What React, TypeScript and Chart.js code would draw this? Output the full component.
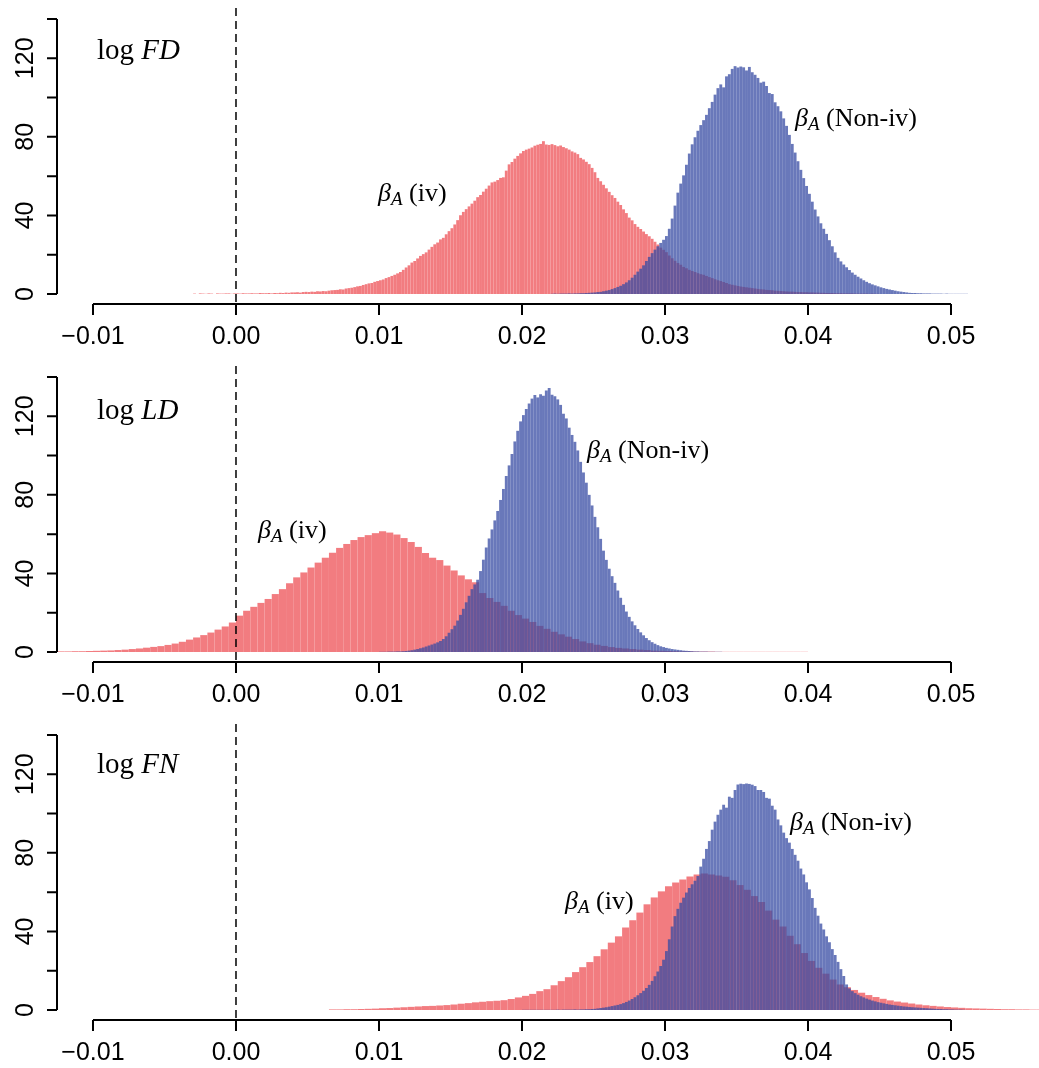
import { useEffect, useRef } from "react";
import { Chart, registerables } from "chart.js";

Chart.register(...registerables);

// ---------- data ----------
const NARROW_BIN = 0.0002;
const WIDE_BIN = 0.0005;

// log FD
const fdIvStart = -0.003;
const fdIv = [
  0.2, 0, 0.3, 0.2, 0.1, 0.3, 0.2, 0, 0.3, 0.2, 0.2, 0.3, 0.3, 0.1, 0.3,
  0.3, 0.2, 0.4, 0.3, 0.3, 0.4, 0.3, 0.3, 0.5, 0.4, 0.4, 0.5, 0.3, 0.5, 0.4,
  0.6, 0.5, 0.7, 0.6, 0.8, 0.8, 0.9, 0.7, 1.0, 1.1, 1.0, 1.2, 1.1, 1.4, 1.3,
  1.5, 1.4, 1.7, 1.9, 2.0, 2.1, 2.4, 2.3, 2.8, 3.0, 3.2, 3.5, 3.9, 4.1, 4.6,
  5.0, 5.4, 5.6, 6.2, 6.6, 7.0, 7.4, 8.1, 8.6, 9.2, 9.8, 10.5, 11.2, 12.3, 13.5,
  14.6, 16.0, 16.8, 18.1, 19.4, 20.3, 21.2, 22.6, 24.0, 25.3, 26.2, 27.8, 28.6, 30.4, 32.0,
  33.5, 35.4, 37.6, 40.1, 41.8, 43.2, 44.6, 46.0, 47.5, 49.3, 50.4, 52.1, 53.6, 55.2, 56.8,
  57.2, 58.0, 59.1, 59.4, 62.8, 66.0, 67.2, 68.9, 70.3, 71.6, 72.8, 73.5, 74.0, 74.6, 75.5,
  76.0, 76.4, 77.8, 76.1, 75.9, 76.3, 75.8, 75.2, 75.6, 74.8, 74.2, 73.5, 72.6, 72.0, 71.2,
  69.3, 68.5, 67.3, 66.1, 64.2, 62.0, 59.1, 57.4, 55.6, 53.8, 52.0, 50.3, 48.9, 47.0, 45.3,
  43.1, 41.2, 38.9, 37.5, 35.6, 34.2, 33.1, 31.8, 30.5, 29.4, 28.1, 26.6, 25.2, 23.6, 22.5,
  21.3, 19.6, 18.2, 16.9, 15.8, 14.9, 13.8, 13.1, 12.3, 11.7, 11.2, 10.6, 10.1, 9.8, 9.2,
  8.6, 8.1, 7.5, 7.0, 6.6, 6.1, 5.6, 5.0, 4.7, 4.4, 4.1, 3.8, 3.6, 3.4, 3.2,
  3.0, 2.8, 2.6, 2.4, 2.3, 2.1, 2.0, 1.9, 1.7, 1.6, 1.5, 1.4, 1.3, 1.2, 1.2,
  1.1, 1.0, 1.0, 0.9, 0.9, 0.8, 0.8, 0.7, 0.7, 0.6, 0.6, 0.5, 0.5, 0.5, 0.4,
  0.4, 0.4, 0.3, 0.3, 0.3, 0.3, 0.2, 0.2, 0.2, 0.2, 0.2, 0.1, 0.2, 0.1, 0.1,
];
const fdNonStart = 0.022;
const fdNon = [
  0.1, 0.2, 0.1, 0.2, 0.2, 0.2, 0.3, 0.2, 0.3, 0.3, 0.4, 0.4, 0.5, 0.6, 0.7,
  0.8, 1.0, 1.1, 1.4, 1.7, 2.0, 2.5, 3.0, 3.6, 4.2, 5.0, 5.9, 7.0, 8.3, 9.8,
  11.4, 12.9, 14.6, 16.8, 18.9, 20.8, 22.6, 24.3, 26.0, 27.6, 29.5, 33.2, 38.4, 45.0, 51.6,
  56.2, 60.4, 65.8, 71.5, 76.2, 79.8, 83.1, 86.0, 88.5, 91.2, 94.6, 97.8, 101.5, 104.8, 106.7,
  105.2, 110.8, 111.9, 114.6, 116.0, 115.3, 115.8, 115.4, 113.8, 115.6, 112.9, 111.6, 110.0, 107.6, 108.1,
  105.9, 102.3, 101.8, 97.6, 95.6, 93.0, 89.4, 85.6, 81.0, 76.4, 72.0, 67.6, 63.2, 59.0, 55.0,
  51.0, 47.0, 43.0, 39.5, 36.0, 33.2, 30.6, 27.4, 24.3, 21.2, 18.4, 16.6, 15.0, 13.6, 12.2,
  10.9, 9.8, 8.8, 7.9, 7.0, 6.2, 5.5, 4.9, 4.4, 3.9, 3.4, 3.0, 2.6, 2.3, 2.0,
  1.7, 1.4, 1.2, 1.0, 0.8, 0.6, 0.5, 0.5, 0.4, 0.4, 0.3, 0.3, 0.3, 0.2, 0.2,
  0.2, 0.2, 0.1, 0.2, 0.1, 0.1, 0.1, 0.1, 0.1, 0.1, 0.1,
];

// log LD
const ldIvStart = -0.0125;
const ldIv = [
  0.3, 0.3, 0.4, 0.4, 0.5, 0.6, 0.7, 0.8, 1.0, 1.2, 1.5, 1.8, 2.2, 2.6, 3.0,
  3.6, 4.3, 5.2, 6.3, 7.4, 8.6, 9.9, 11.4, 13.0, 15.0, 18.5, 21.0, 23.0, 25.0, 27.0,
  29.5, 32.0, 35.0, 38.0, 40.5, 43.0, 45.5, 48.0, 50.5, 53.0, 55.0, 57.0, 58.5, 59.5, 60.5,
  61.5, 60.8, 59.8, 58.0, 56.0, 53.5, 50.4, 48.0, 46.8, 44.0, 41.5, 39.0, 37.0, 35.5, 30.0,
  27.5, 25.5, 23.5, 21.0, 18.8, 17.0, 15.3, 13.3, 11.8, 10.3, 9.0, 7.8, 6.6, 5.4, 4.5,
  3.7, 3.1, 2.5, 2.1, 1.8, 1.5, 1.2, 1.0, 0.7, 0.6, 0.5, 0.4, 0.3, 0.3, 0.2,
  0.2, 0.2, 0.1, 0.1, 0.1, 0.1, 0.1, 0.1, 0.1, 0.1, 0.1, 0.1, 0.1, 0.1, 0.1,
];
const ldNonStart = 0.01;
const ldNon = [
  0.1, 0.1, 0.1, 0.2, 0.2, 0.2, 0.3, 0.3, 0.4, 0.5, 0.7, 0.9, 1.2, 1.5, 1.9,
  2.3, 2.8, 3.3, 3.8, 4.3, 4.9, 5.6, 6.6, 8.0, 9.8, 11.6, 13.4, 16.0, 18.9, 22.0,
  25.3, 28.6, 32.0, 34.4, 36.8, 41.2, 47.0, 53.2, 57.8, 62.4, 67.0, 71.8, 77.4, 83.0, 89.6,
  95.0, 100.8, 107.2, 112.6, 117.4, 120.6, 123.7, 126.5, 129.0, 130.8, 129.6, 131.2, 130.4, 133.1, 134.4,
  131.0, 130.2, 128.6, 125.8, 121.3, 118.9, 114.2, 110.5, 107.0, 102.6, 96.8, 91.4, 86.2, 80.0, 74.6,
  68.8, 63.5, 57.6, 51.6, 46.9, 42.4, 38.6, 35.2, 31.3, 27.6, 24.0, 20.6, 17.9, 15.6, 13.6,
  11.7, 10.0, 8.5, 7.1, 6.0, 5.0, 4.2, 3.5, 2.9, 2.5, 2.1, 1.8, 1.5, 1.3, 1.1,
  0.9, 0.7, 0.6, 0.5, 0.4, 0.3, 0.3, 0.2, 0.2, 0.2, 0.1, 0.1, 0.1, 0.1, 0.1,
];

// log FN
const fnIvStart = 0.0065;
const fnIv = [
  0.3, 0.3, 0.4, 0.4, 0.5, 0.6, 0.7, 0.9, 1.0, 1.2, 1.4, 1.6, 1.8, 2.0, 2.1,
  2.3, 2.5, 2.8, 3.2, 3.5, 3.9, 4.2, 4.5, 4.7, 5.0, 5.6, 6.4, 7.2, 8.2, 9.6,
  10.6, 12.6, 14.7, 16.7, 19.3, 21.8, 24.4, 27.4, 30.9, 34.3, 37.5, 42.0, 45.7, 49.6, 53.8,
  57.3, 60.4, 63.0, 64.9, 66.5, 68.0, 69.0, 69.5, 69.0, 68.5, 67.8, 66.0, 63.6, 61.2, 58.0,
  55.0, 50.6, 46.0, 42.5, 37.8, 33.5, 29.0, 25.0, 21.5, 18.5, 15.5, 13.0, 11.6, 10.2, 8.8,
  7.6, 6.6, 5.7, 4.9, 4.3, 3.8, 3.3, 2.8, 2.4, 2.1, 1.8, 1.5, 1.3, 1.1, 0.9,
  0.8, 0.7, 0.6, 0.5, 0.4, 0.4, 0.3, 0.3, 0.2, 0.2,
];
const fnNonStart = 0.02;
const fnNon = [
  0.1, 0.1, 0.1, 0.1, 0.1, 0.1, 0.1, 0.1, 0.1, 0.1, 0.1, 0.1, 0.2, 0.1, 0.2,
  0.2, 0.2, 0.2, 0.3, 0.2, 0.3, 0.3, 0.4, 0.4, 0.5, 0.6, 0.8, 1.0, 1.2, 1.4,
  1.7, 2.0, 2.3, 2.6, 3.0, 3.5, 4.1, 4.8, 5.6, 6.5, 7.5, 8.6, 9.8, 11.2, 12.8,
  14.8, 17.2, 19.6, 22.4, 25.6, 30.0, 36.0, 42.5, 47.8, 51.5, 54.6, 57.2, 59.8, 62.1, 64.0,
  65.8, 68.2, 73.0, 77.0, 82.0, 86.0, 91.8, 95.9, 99.4, 102.0, 104.5, 103.0, 108.6, 108.0, 112.0,
  114.8, 115.2, 115.0, 115.3, 115.1, 114.7, 114.0, 112.0, 112.0, 111.0, 108.0, 107.6, 104.0, 102.0, 97.0,
  94.0, 90.3, 87.5, 85.2, 82.0, 79.0, 76.0, 72.0, 69.0, 65.0, 61.4, 57.0, 52.0, 48.0, 44.0,
  41.0, 37.5, 34.5, 31.0, 28.0, 24.5, 20.8, 17.3, 13.0, 11.0, 9.6, 8.6, 7.8, 7.0, 6.4,
  5.8, 5.3, 4.8, 4.4, 4.0, 3.7, 3.4, 3.1, 2.8, 2.6, 2.4, 2.2, 2.0, 1.8, 1.7,
  1.5, 1.4, 1.3, 1.2, 1.1, 1.0, 0.9, 0.8, 0.7, 0.6, 0.5, 0.5, 0.4, 0.4, 0.3,
  0.3, 0.2, 0.2, 0.2, 0.1,
];

const xTickValues = [-0.01, 0, 0.01, 0.02, 0.03, 0.04, 0.05];
const xTickLabels = ["\u22120.01", "0.00", "0.01", "0.02", "0.03", "0.04", "0.05"];
const yTickValues = [0, 20, 40, 60, 80, 100, 120, 140];
const yTickLabels = ["0", "", "40", "", "80", "", "120", ""];
const panelNames = ["FD", "LD", "FN"];
const ivLabel = "(iv)";
const nonLabel = "(Non-iv)";

// ---------- styling / layout ----------
const RED = "rgb(242,124,128)";
const BLUE = "rgba(55,75,163,0.75)";
const X_MIN = -0.012517;
const X_MAX = 0.056154;
const Y_MIN = -5.6;
const Y_MAX = 145.6;
const PLOT_LEFT = 57;
const PLOT_WIDTH = 982;
const PLOT_HEIGHT = 297;
const SERIF = '"Liberation Serif", "Times New Roman", serif';
const SANS = '"Liberation Sans", Arial, sans-serif';

type Bins = { start: number; width: number; values: number[] };
type Pt = { x: number; y: number };
type PanelCfg = {
  height: number;
  top: number;
  name: string;
  iv: Bins;
  non: Bins;
  titlePos: Pt;
  ivPos: Pt;
  nonPos: Pt;
};

const panels: PanelCfg[] = [
  {
    height: 358,
    top: 8,
    name: panelNames[0],
    iv: { start: fdIvStart, width: NARROW_BIN, values: fdIv },
    non: { start: fdNonStart, width: NARROW_BIN, values: fdNon },
    titlePos: { x: -0.00972, y: 119.5 },
    ivPos: { x: 0.00993, y: 47.5 },
    nonPos: { x: 0.03909, y: 85.5 },
  },
  {
    height: 359,
    top: 8,
    name: panelNames[1],
    iv: { start: ldIvStart, width: WIDE_BIN, values: ldIv },
    non: { start: ldNonStart, width: NARROW_BIN, values: ldNon },
    titlePos: { x: -0.00972, y: 118.6 },
    ivPos: { x: 0.00154, y: 58.0 },
    nonPos: { x: 0.02455, y: 98.8 },
  },
  {
    height: 351,
    top: 7,
    name: panelNames[2],
    iv: { start: fnIvStart, width: WIDE_BIN, values: fnIv },
    non: { start: fnNonStart, width: NARROW_BIN, values: fnNon },
    titlePos: { x: -0.00972, y: 120.5 },
    ivPos: { x: 0.02301, y: 51.2 },
    nonPos: { x: 0.03874, y: 91.8 },
  },
];

const toPoints = (b: Bins) =>
  b.values.map((v, i) => ({ x: b.start + (i + 0.5) * b.width, y: v }));

// pixel thickness of one histogram bin on the fixed x range
const binPixels = (w: number) => (w / (X_MAX - X_MIN)) * PLOT_WIDTH;

function drawBeta(ctx: CanvasRenderingContext2D, x: number, y: number, suffix: string) {
  ctx.textAlign = "left";
  ctx.textBaseline = "alphabetic";
  ctx.font = `italic 26px ${SERIF}`;
  ctx.fillText("\u03B2", x, y);
  let w = ctx.measureText("\u03B2").width;
  ctx.font = `italic 19px ${SERIF}`;
  ctx.fillText("A", x + w, y + 4);
  w += ctx.measureText("A").width;
  ctx.font = `26px ${SERIF}`;
  ctx.fillText(" " + suffix, x + w, y);
}

const rAxesPlugin = {
  id: "rAxes",
  afterDatasetsDraw(chart: any, _args: any, opts: any) {
    const ctx: CanvasRenderingContext2D = chart.ctx;
    const xs = chart.scales.xb;
    const ys = chart.scales.y;
    const ca = chart.chartArea;
    const cfg: PanelCfg = opts.cfg;
    ctx.save();
    ctx.fillStyle = "#000";
    ctx.strokeStyle = "#000";

    // dashed zero line
    const x0 = xs.getPixelForValue(0);
    ctx.lineWidth = 1.5;
    ctx.setLineDash([8, 5]);
    ctx.beginPath();
    ctx.moveTo(x0, ca.top);
    ctx.lineTo(x0, ca.bottom - 1);
    ctx.stroke();
    ctx.setLineDash([]);

    // x axis
    ctx.lineWidth = 2;
    const axY = ca.bottom - 1;
    ctx.beginPath();
    ctx.moveTo(xs.getPixelForValue(xTickValues[0]), axY);
    ctx.lineTo(xs.getPixelForValue(xTickValues[xTickValues.length - 1]), axY);
    xTickValues.forEach((v) => {
      const px = xs.getPixelForValue(v);
      ctx.moveTo(px, axY);
      ctx.lineTo(px, axY + 11);
    });
    ctx.stroke();
    ctx.font = `25px ${SANS}`;
    ctx.textAlign = "center";
    ctx.textBaseline = "alphabetic";
    xTickValues.forEach((v, i) => {
      ctx.fillText(xTickLabels[i], xs.getPixelForValue(v), axY + 40);
    });

    // y axis
    const axX = ca.left;
    ctx.beginPath();
    ctx.moveTo(axX, ys.getPixelForValue(yTickValues[0]));
    ctx.lineTo(axX, ys.getPixelForValue(yTickValues[yTickValues.length - 1]));
    yTickValues.forEach((v) => {
      const py = ys.getPixelForValue(v);
      ctx.moveTo(axX, py);
      ctx.lineTo(axX - 10, py);
    });
    ctx.stroke();
    yTickValues.forEach((v, i) => {
      if (!yTickLabels[i]) return;
      ctx.save();
      ctx.translate(33, ys.getPixelForValue(v));
      ctx.rotate(-Math.PI / 2);
      ctx.textAlign = "center";
      ctx.fillText(yTickLabels[i], 0, 0);
      ctx.restore();
    });

    // title
    ctx.textAlign = "left";
    const tx = xs.getPixelForValue(cfg.titlePos.x);
    const ty = ys.getPixelForValue(cfg.titlePos.y);
    ctx.font = `29px ${SERIF}`;
    ctx.fillText("log ", tx, ty);
    const lw = ctx.measureText("log ").width;
    ctx.font = `italic 29px ${SERIF}`;
    ctx.fillText(cfg.name, tx + lw, ty);

    drawBeta(ctx, xs.getPixelForValue(cfg.ivPos.x), ys.getPixelForValue(cfg.ivPos.y), ivLabel);
    drawBeta(ctx, xs.getPixelForValue(cfg.nonPos.x), ys.getPixelForValue(cfg.nonPos.y), nonLabel);
    ctx.restore();
  },
};

function makeChart(canvas: HTMLCanvasElement, cfg: PanelCfg) {
  const xScale = () => ({
    type: "linear" as const,
    min: X_MIN,
    max: X_MAX,
    display: false,
    offset: false,
  });
  const common = {
    yAxisID: "y",
    borderWidth: 0,
    inflateAmount: 0,
    grouped: false,
    barPercentage: 1,
    categoryPercentage: 1,
  };
  return new Chart(canvas, {
    type: "bar",
    data: {
      datasets: [
        {
          ...common,
          label: "Non-iv",
          data: toPoints(cfg.non),
          xAxisID: "xb",
          backgroundColor: BLUE,
          barThickness: binPixels(cfg.non.width),
          order: 0,
        },
        {
          ...common,
          label: "iv",
          data: toPoints(cfg.iv),
          xAxisID: "xr",
          backgroundColor: RED,
          barThickness: binPixels(cfg.iv.width),
          order: 1,
        },
      ] as any,
    },
    options: {
      responsive: false,
      maintainAspectRatio: false,
      animation: false,
      devicePixelRatio: 1,
      layout: {
        padding: {
          left: PLOT_LEFT,
          right: 1039 - PLOT_LEFT - PLOT_WIDTH,
          top: cfg.top,
          bottom: cfg.height - cfg.top - PLOT_HEIGHT,
        },
      },
      scales: {
        xb: xScale(),
        xr: xScale(),
        y: { type: "linear", min: Y_MIN, max: Y_MAX, display: false },
      } as any,
      plugins: {
        legend: { display: false },
        title: { display: false },
        tooltip: { enabled: false },
        rAxes: { cfg },
      } as any,
    },
    plugins: [rAxesPlugin],
  });
}

export default function App() {
  const refs = [
    useRef<HTMLCanvasElement>(null),
    useRef<HTMLCanvasElement>(null),
    useRef<HTMLCanvasElement>(null),
  ];
  useEffect(() => {
    const charts = panels.map((cfg, i) => makeChart(refs[i].current!, cfg));
    return () => charts.forEach((c) => c.destroy());
  }, []);
  return (
    <div style={{ position: "absolute", left: 0, top: 0, width: 1039, background: "#fff" }}>
      {panels.map((cfg, i) => (
        <canvas
          key={i}
          ref={refs[i]}
          width={1039}
          height={cfg.height}
          style={{ display: "block", width: 1039, height: cfg.height }}
        />
      ))}
    </div>
  );
}
